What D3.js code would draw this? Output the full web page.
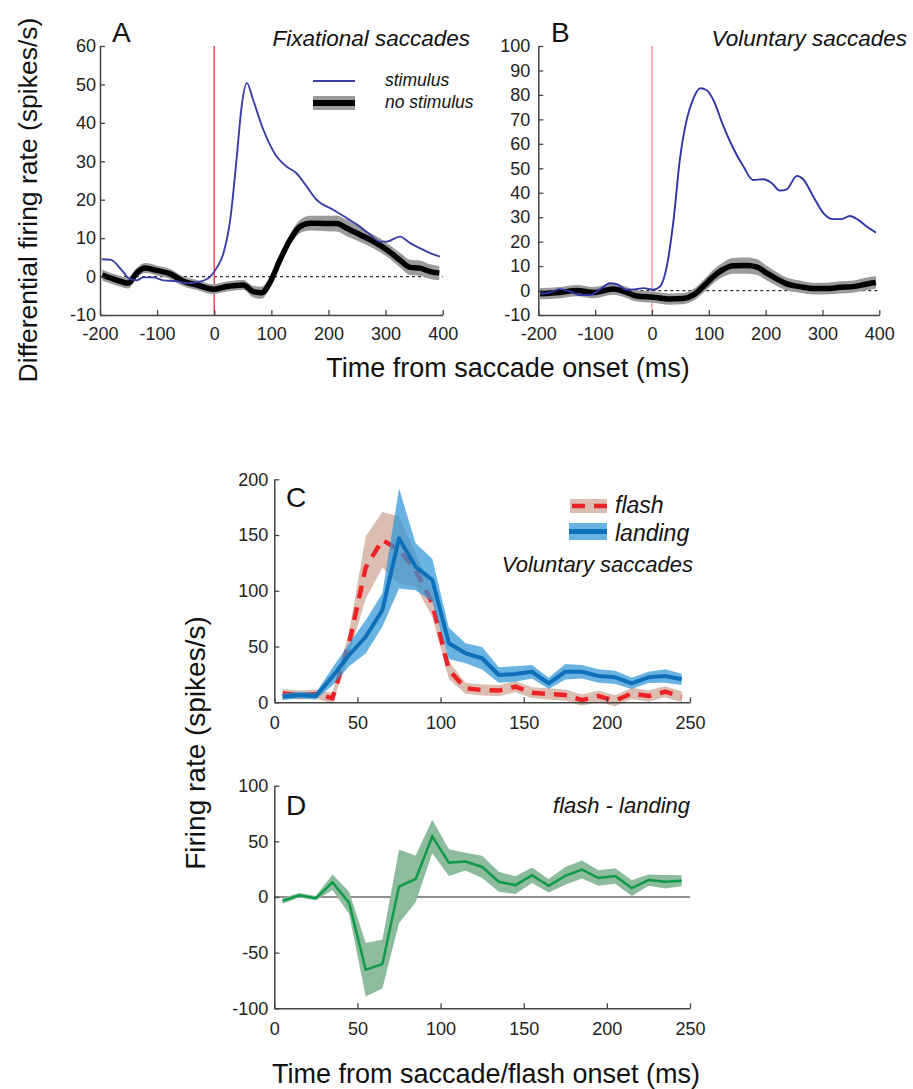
<!DOCTYPE html>
<html lang="en">
<head>
<meta charset="UTF-8">
<title>Saccade firing rates</title>
<script src="https://d3js.org/d3.v7.min.js"></script>
<style>
  body { margin: 0; background: #fff; }
  svg { font-family: "Liberation Sans", Arial, sans-serif; }
  .tick text { font-size: 18px; fill: #222; }
</style>
</head>
<body>
<script>
// ---- Panel A: fixational saccades (ms, spikes/s) ----
const aStimT = [-197,-182,-162,-150,-136,-124,-107,-89,-66,-48,-25,-7,4,16,28,39,48,57,68,86,109,127,144,162,179,208,232,255,273,290,302,325,343,360,378,395];
const aStimV = [4.5,4.4,1.7,-0.4,-1,-0.2,-0.2,-1,-1.2,-1.7,-1.3,0,2.2,6,14.8,30.4,44.3,50.4,46,38.2,31.3,28.6,26.9,23.4,20,17.4,15.2,13,10.9,9.1,9.1,10.4,8.7,7.4,6.1,5.2];
const aNoT = [-196,-171,-150,-136,-121,-101,-77,-54,-30,-2,22,51,68,83,97,115,133,150,168,197,214,232,255,279,302,325,343,360,378,394];
const aNoV = [0.4,-0.9,-1.7,0.9,2.2,1.6,0.7,-1.2,-2.2,-3.3,-2.6,-2.2,-3.9,-4.2,-1.7,4.3,9.6,13,13.9,13.8,13.8,12.6,10.9,9.1,7,4.3,2.4,2.2,1.3,0.9];
const aNoSem = [1.4,1.4,1.4,1.3,1.3,1.3,1.3,1.3,1.3,1.3,1.3,1.3,1.5,1.6,1.5,1.4,1.5,1.7,1.9,2.0,2.1,2.1,1.9,1.8,1.8,1.9,2.0,2.0,1.9,1.8];

// ---- Panel B: voluntary saccades ----
const bStimT = [-197,-179,-162,-144,-127,-109,-91,-74,-62,-44,-27,-15,2,14,26,38,49,61,73,85,96,108,126,143,161,178,196,211,225,237,255,266,284,302,319,334,348,363,378,394];
const bStimV = [-1.3,-0.8,0.6,-0.4,-1.8,-1.8,0.6,3,2.6,0.3,0.6,1,0.3,1.6,9.8,28.9,53.4,69.8,78.6,82.7,82,77.9,67,58.2,50.7,45.2,45.5,43.9,40.9,41.4,46.9,45.5,38.4,31.6,29.2,29.2,30.5,28.9,26.2,23.7];
const bNoT = [-197,-162,-132,-103,-68,-44,-27,2,32,55,73,90,108,126,143,167,185,202,220,237,260,284,307,331,354,378,394];
const bNoV = [-1.3,-0.8,0,-0.8,0.6,-0.8,-2.2,-2.7,-3.5,-3.3,-1.8,1.6,5.7,8.7,10.1,10.2,9.6,7.1,4.7,2.7,1.6,0.8,0.8,1.3,1.6,2.7,3.3];
const bNoSem = [2.3,2.3,2.3,2.3,2.3,2.3,2.3,2.3,2.3,2.3,2.4,2.6,2.8,3.0,3.2,3.3,3.2,3.0,2.8,2.6,2.5,2.4,2.4,2.5,2.5,2.6,2.6];

// ---- Panels C and D: 10 ms bins ----
const bins = [5,15,25,35,45,55,65,75,85,95,105,115,125,135,145,155,165,175,185,195,205,215,225,235,245];
const flashV = [8,6.5,7.5,3.6,53,121,145.6,136.6,118.7,88.8,29,12.6,11,10.5,14,8.6,7.5,6.5,2,5.6,1.4,8,5.6,9.5,5];
const flashSem = [4,4,4,5,10,28,25,30,15,12,8,5,5,5,5,5,5,5,5,5,5,5,5,5,5];
const landV = [5,6.5,5.6,23,42.4,58.8,82.8,147,121.6,109.7,52.9,44,39.5,24.5,25.4,27.4,17,27.4,27.4,23.6,22.4,17,22.4,23.6,20.6];
const landSem = [3,3,3,8,10,15,15,45,21,19,14,9,10,7,7,6,5,7,6,6,6,5,5,6,5];
const diffV = [-3.5,1.5,-1,13.2,-5.3,-65.3,-60.3,9.4,16.2,54.4,30.9,31.8,27,13.7,10.7,19.6,10.1,19,24.7,17,18.8,8,15.2,13.7,14.6];
const diffSem = [2.5,2,2,7,10,24,22,33,21,15,12,8,10,9,8,7,6,8,8,7,7,7,5,6,5];

// tick values
const abXTicks = [-200,-100,0,100,200,300,400];
const aYTicks = [-10,0,10,20,30,40,50,60];
const bYTicks = [-10,0,10,20,30,40,50,60,70,80,90,100];
const cdXTicks = [0,50,100,150,200,250];
const cYTicks = [0,50,100,150,200];
const dYTicks = [-100,-50,0,50,100];

const width = 913, height = 1089;
const svg = d3.select('body').append('svg')
    .attr('width', width)
    .attr('height', height);
svg.append('rect').attr('width', width).attr('height', height).attr('fill', '#fff');

// scales
const xA = d3.scaleLinear().domain([-200, 400]).range([100, 442.7]);
const yA = d3.scaleLinear().domain([-10, 60]).range([315, 46]);
const xB = d3.scaleLinear().domain([-200, 400]).range([538.3, 879.3]);
const yB = d3.scaleLinear().domain([-10, 100]).range([315, 46]);
const xC = d3.scaleLinear().domain([0, 250]).range([274.3, 690]);
const yC = d3.scaleLinear().domain([0, 200]).range([702.3, 479.3]);
const yD = d3.scaleLinear().domain([-100, 100]).range([1008.3, 785.7]);

function axes(x, y, xt, yt, xpad, ypad) {
    const gx = svg.append('g')
        .attr('transform', `translate(0,${y.range()[0]})`)
        .call(d3.axisBottom(x).tickValues(xt).tickFormat(d => String(d))
            .tickSizeInner(-5).tickSizeOuter(0).tickPadding(xpad));
    const gy = svg.append('g')
        .attr('transform', `translate(${x.range()[0]},0)`)
        .call(d3.axisLeft(y).tickValues(yt).tickFormat(d => String(d))
            .tickSizeInner(-5).tickSizeOuter(0).tickPadding(ypad));
    [gx, gy].forEach(g => {
        g.selectAll('path, line').attr('stroke', '#444').attr('stroke-width', 1.3);
        g.select('.domain').attr('stroke-width', 1.5);
    });
}

function text(x, y, s, size, opts = {}) {
    const t = svg.append('text')
        .attr('x', x).attr('y', y)
        .attr('font-size', size)
        .attr('fill', '#111')
        .text(s);
    if (opts.italic) t.attr('font-style', 'italic');
    if (opts.anchor) t.attr('text-anchor', opts.anchor);
    if (opts.rotate) t.attr('transform', `rotate(-90,${x},${y})`);
    return t;
}

// top panels share drawing
function saccadePanel(x, y, stimT, stimV, noT, noV, noSem, redColor, blue) {
    // zero line
    svg.append('line')
        .attr('x1', x(-200)).attr('x2', x(400))
        .attr('y1', y(0)).attr('y2', y(0))
        .attr('stroke', '#333').attr('stroke-width', 1.2)
        .attr('stroke-dasharray', '3,3');
    // saccade onset
    svg.append('line')
        .attr('x1', x(0)).attr('x2', x(0))
        .attr('y1', y.range()[0]).attr('y2', y.range()[1])
        .attr('stroke', redColor).attr('stroke-width', 1.3);

    const noData = noT.map((t, i) => ({ t, v: noV[i], s: noSem[i] }));
    svg.append('path')
        .datum(noData)
        .attr('d', d3.area().curve(d3.curveMonotoneX)
            .x(d => x(d.t)).y0(d => y(d.v - d.s)).y1(d => y(d.v + d.s)))
        .attr('fill', '#9b9b9b');
    svg.append('path')
        .datum(noData)
        .attr('d', d3.line().curve(d3.curveMonotoneX).x(d => x(d.t)).y(d => y(d.v)))
        .attr('fill', 'none').attr('stroke', '#000').attr('stroke-width', 5.5)
        .attr('stroke-linejoin', 'round');

    const stimData = stimT.map((t, i) => ({ t, v: stimV[i] }));
    svg.append('path')
        .datum(stimData)
        .attr('d', d3.line().curve(d3.curveMonotoneX).x(d => x(d.t)).y(d => y(d.v)))
        .attr('fill', 'none').attr('stroke', blue).attr('stroke-width', 1.9);
}

saccadePanel(xA, yA, aStimT, aStimV, aNoT, aNoV, aNoSem, '#e8303a', '#3a3fa6');
saccadePanel(xB, yB, bStimT, bStimV, bNoT, bNoV, bNoSem, '#f29090', '#2d36a4');
axes(xA, yA, abXTicks, aYTicks, 12, 4);
axes(xB, yB, abXTicks, bYTicks, 12, 8);

// legend A
svg.append('line').attr('x1', 313).attr('x2', 355).attr('y1', 81).attr('y2', 81)
    .attr('stroke', '#3a3fa6').attr('stroke-width', 1.9);
svg.append('rect').attr('x', 313).attr('y', 96).attr('width', 42).attr('height', 14).attr('fill', '#9b9b9b');
svg.append('line').attr('x1', 313).attr('x2', 355).attr('y1', 103).attr('y2', 103)
    .attr('stroke', '#000').attr('stroke-width', 6);
text(385, 86, 'stimulus', 17.5, { italic: true });
text(385, 108, 'no stimulus', 17.5, { italic: true });

text(112, 42, 'A', 28);
text(551, 42, 'B', 28);
text(470, 46, 'Fixational saccades', 22.5, { italic: true, anchor: 'end' });
text(907, 46, 'Voluntary saccades', 22.5, { italic: true, anchor: 'end' });
text(37, 200, 'Differential firing rate (spikes/s)', 26.5, { anchor: 'middle', rotate: true });
text(508, 377, 'Time from saccade onset (ms)', 27, { anchor: 'middle' });

// ---- Panel C ----
const cData = bins.map((t, i) => ({ t, f: flashV[i], fs: flashSem[i], l: landV[i], ls: landSem[i] }));
svg.append('path').datum(cData)
    .attr('d', d3.area().x(d => xC(d.t)).y0(d => yC(d.f - d.fs)).y1(d => yC(d.f + d.fs)))
    .attr('fill', '#dcbdb1');
svg.append('path').datum(cData)
    .attr('d', d3.line().x(d => xC(d.t)).y(d => yC(d.f)))
    .attr('fill', 'none').attr('stroke', '#ec2227').attr('stroke-width', 4.5)
    .attr('stroke-dasharray', '13,9');
svg.append('path').datum(cData)
    .attr('d', d3.area().x(d => xC(d.t)).y0(d => yC(Math.max(0, d.l - d.ls))).y1(d => yC(d.l + d.ls)))
    .attr('fill', '#2f95d8').attr('fill-opacity', 0.72);
svg.append('path').datum(cData)
    .attr('d', d3.line().x(d => xC(d.t)).y(d => yC(d.l)))
    .attr('fill', 'none').attr('stroke', '#0f70ba').attr('stroke-width', 4)
    .attr('stroke-linejoin', 'round');
axes(xC, yC, cdXTicks, cYTicks, 14, 6);

// legend C
svg.append('rect').attr('x', 570).attr('y', 499).attr('width', 37).attr('height', 14).attr('fill', '#dcbdb1');
svg.append('line').attr('x1', 572).attr('x2', 607).attr('y1', 506).attr('y2', 506)
    .attr('stroke', '#ec2227').attr('stroke-width', 4.5).attr('stroke-dasharray', '13,9');
svg.append('rect').attr('x', 569).attr('y', 523).attr('width', 38).attr('height', 17)
    .attr('fill', '#2f95d8').attr('fill-opacity', 0.72);
svg.append('line').attr('x1', 569).attr('x2', 607).attr('y1', 531.5).attr('y2', 531.5)
    .attr('stroke', '#0f70ba').attr('stroke-width', 5);
text(615, 513, 'flash', 23, { italic: true });
text(615, 541, 'landing', 23, { italic: true });
text(693, 572, 'Voluntary saccades', 22, { italic: true, anchor: 'end' });
text(286, 507, 'C', 28);

// ---- Panel D ----
const dData = bins.map((t, i) => ({ t, v: diffV[i], s: diffSem[i] }));
svg.append('line')
    .attr('x1', xC(0)).attr('x2', xC(250))
    .attr('y1', yD(0)).attr('y2', yD(0))
    .attr('stroke', '#222').attr('stroke-width', 1.2);
svg.append('path').datum(dData)
    .attr('d', d3.area().x(d => xC(d.t)).y0(d => yD(d.v - d.s)).y1(d => yD(d.v + d.s)))
    .attr('fill', '#8cbc9c');
svg.append('path').datum(dData)
    .attr('d', d3.line().x(d => xC(d.t)).y(d => yD(d.v)))
    .attr('fill', 'none').attr('stroke', '#0f9a4a').attr('stroke-width', 2.5);
axes(xC, yD, cdXTicks, dYTicks, 14, 6);

text(286, 815, 'D', 28);
text(690, 813, 'flash - landing', 22, { italic: true, anchor: 'end' });
text(205, 743, 'Firing rate (spikes/s)', 28, { anchor: 'middle', rotate: true });
text(486, 1083, 'Time from saccade/flash onset (ms)', 27, { anchor: 'middle' });
</script>
</body>
</html>
